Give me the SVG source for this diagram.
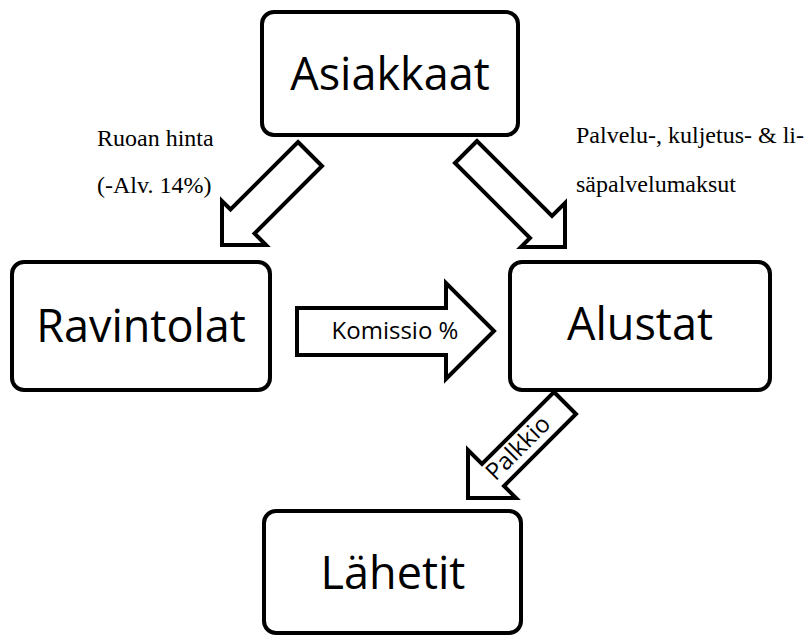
<svg xmlns="http://www.w3.org/2000/svg" width="804" height="638" viewBox="0 0 804 638">
<defs>
<style>
.box{fill:#fff;stroke:#000;stroke-width:4}
.arr{fill:#fff;stroke:#000;stroke-width:4;stroke-linejoin:miter}
.big{font-family:"Open Sans","Noto Sans",sans-serif;font-size:45px;fill:#000;text-anchor:middle}
.lab{font-family:"Liberation Serif","Times New Roman",serif;font-size:24px;fill:#000}
.al{font-family:"Open Sans","Noto Sans",sans-serif;font-size:24px;fill:#000;text-anchor:middle}
</style>
</defs>
<rect width="804" height="638" fill="#fff"/>
<g id="connectors">
<polygon class="arr" points="298,142 322,166 254.5,233.5 266,245 222,245 222,201 230.5,209.5"/>
<polygon class="arr" points="477,141 455,163 530,238 521,247 565,247 565,203 552,216"/>
<polygon class="arr" points="297,308 446,308 446,283 494,331 446,379 446,355 297,355"/>
<text class="al" x="395" y="339">Komissio %</text>
<polygon class="arr" points="554,392 576,414 504,486 516,498 468,498 468,450 482,464"/>
<text class="al" x="0" y="0" font-size="23" dominant-baseline="central" transform="translate(517,447) rotate(-45)">Palkkio</text>
</g>
<g id="label-ruoka">
<text class="lab" x="97" y="146">Ruoan hinta</text>
<text class="lab" x="97" y="193">(-Alv. 14%)</text>
</g>
<g id="label-palvelu">
<text class="lab" x="576" y="143">Palvelu-, kuljetus- &amp; li-</text>
<text class="lab" x="576" y="192">säpalvelumaksut</text>
</g>
<g id="asiakkaat">
<rect class="box" x="262" y="12" width="256" height="123" rx="12"/>
<text class="big" x="390" y="90">Asiakkaat</text>
</g>
<g id="ravintolat">
<rect class="box" x="12" y="262" width="258" height="128" rx="12"/>
<text class="big" x="141" y="342">Ravintolat</text>
</g>
<g id="alustat">
<rect class="box" x="510" y="262" width="260" height="128" rx="12"/>
<text class="big" x="640" y="340">Alustat</text>
</g>
<g id="lahetit">
<rect class="box" x="264" y="511" width="257" height="122" rx="12"/>
<text class="big" x="393" y="589">Lähetit</text>
</g>
</svg>
